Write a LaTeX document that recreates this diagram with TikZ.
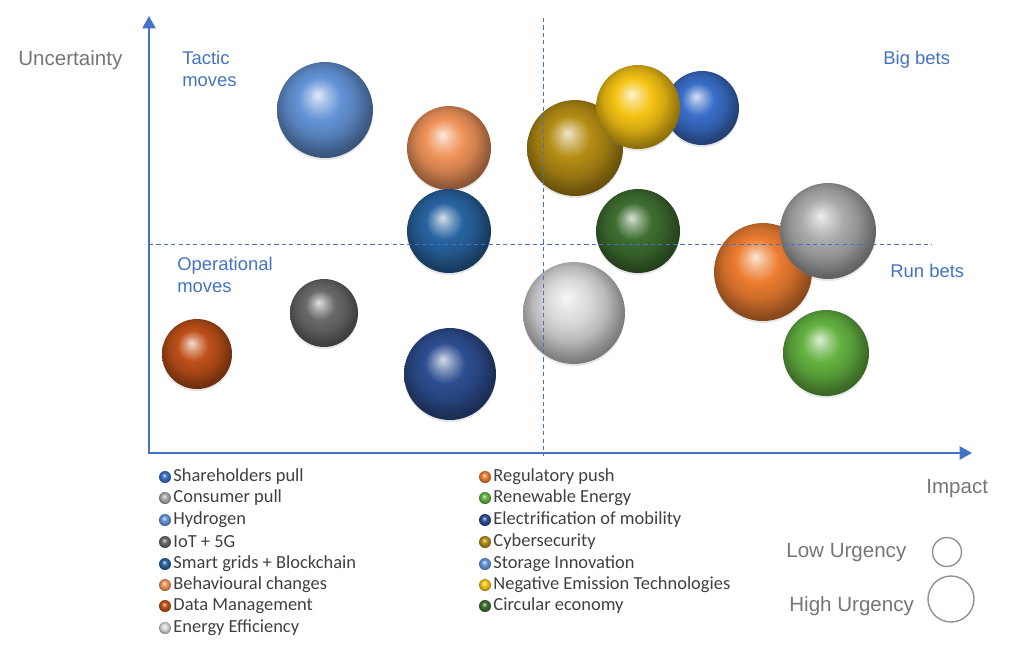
\documentclass[tikz,border=0pt]{standalone}
\usepackage{fontspec}
\setmainfont{Liberation Sans}
\newfontfamily\legendfont{Carlito}
\usetikzlibrary{arrows.meta,positioning,shadows}
\definecolor{axisblue}{RGB}{68,114,196}
\definecolor{labelgrey}{RGB}{118,118,118}
\definecolor{legendgrey}{RGB}{64,64,64}
\definecolor{shareblue}{RGB}{58,110,200}
\definecolor{consumergrey}{RGB}{170,170,170}
\definecolor{hydroblue}{RGB}{100,148,215}
\definecolor{iotgrey}{RGB}{105,105,105}
\definecolor{gridblue}{RGB}{40,100,160}
\definecolor{behavorange}{RGB}{240,148,90}
\definecolor{datarust}{RGB}{190,80,25}
\definecolor{effsilver}{RGB}{215,215,215}
\definecolor{regorange}{RGB}{237,125,49}
\definecolor{renewgreen}{RGB}{100,178,65}
\definecolor{mobnavy}{RGB}{45,78,145}
\definecolor{cybergold}{RGB}{180,140,20}
\definecolor{storageblue}{RGB}{105,150,220}
\definecolor{negyellow}{RGB}{245,195,20}
\definecolor{circgreen}{RGB}{62,110,48}
\colorlet{spherecolor}{gray}
\pgfdeclareradialshading[spherecolor]{glossball}{\pgfpoint{-4bp}{8bp}}{%
  color(0bp)=(spherecolor!20!white); color(5bp)=(spherecolor!60!white);
  color(11bp)=(spherecolor); color(18bp)=(spherecolor!86!black);
  color(25bp)=(spherecolor!62!black); color(32bp)=(spherecolor!45!black);
  color(40bp)=(spherecolor!35!black)}
\tikzset{
  sphere color/.code={\colorlet{spherecolor}{#1}},
  sphere/.style 2 args={circle,inner sep=0pt,minimum size=#2*0.04cm,
    sphere color=#1,shading=glossball,
    drop shadow={shadow xshift=0pt,shadow yshift=-1.2pt,opacity=.2}},
  legdot/.style={circle,inner sep=0pt,minimum size=0.24cm,sphere color=#1,shading=glossball},
  legtext/.style={inner sep=0pt,text=legendgrey,font=\legendfont\fontsize{10.5}{12}\selectfont},
  zone/.style={inner sep=0pt,anchor=west,align=left,text=axisblue,font=\fontsize{10.5}{12.6}\selectfont},
  axislabel/.style={inner sep=0pt,anchor=west,text=labelgrey,font=\fontsize{11.7}{13}\selectfont},
  axis/.style={axisblue,line width=0.9pt,{Triangle[length=7pt,width=7.5pt]}-{Triangle[length=7pt,width=7.5pt]}},
  divider/.style={axisblue,line width=0.5pt,dash pattern=on 2.4pt off 1.8pt},
  urgency/.style={circle,draw=labelgrey!80,line width=0.8pt,inner sep=0pt}
}
\begin{document}
\begin{tikzpicture}[x=0.02cm,y=-0.02cm]
  \useasboundingbox (0,0) rectangle (1024,654);
  % axes
  \coordinate (origin) at (149,453);
  \coordinate (ytip) at (149,16);
  \coordinate (xtip) at (972,453);
  \draw[axis] (ytip) -- (origin) -- (xtip);

  % spheres
  \node[sphere={hydroblue}{48}] (hydrogen) at (325,110) {};
  \node[sphere={behavorange}{42}] (behaviour) at (449,148) {};
  \node[sphere={gridblue}{42}] (grids) at (449,231) {};
  \node[sphere={iotgrey}{34}] (iot) at (324,313) {};
  \node[sphere={datarust}{35}] (data) at (197,354) {};
  \node[sphere={mobnavy}{46}] (mobility) at (450,374) {};
  \node[sphere={cybergold}{48}] (cyber) at (575,148) {};
  \node[sphere={shareblue}{37}] (share) at (702,108) {};
  \node[sphere={negyellow}{42}] (negative) at (638,107) {};
  \node[sphere={circgreen}{42}] (circular) at (638,231) {};
  \node[sphere={effsilver}{51}] (efficiency) at (574,313) {};
  \node[sphere={regorange}{49}] (regulatory) at (763,272) {};
  \node[sphere={consumergrey}{48}] (consumer) at (828,231) {};
  \node[sphere={renewgreen}{43}] (renewable) at (826,353) {};

  % quadrant lines
  \coordinate (vtop) at (543,18);
  \coordinate (vbot) at (543,456);
  \coordinate (hleft) at (149,244);
  \coordinate (hright) at (932,244);
  \draw[divider] (vtop) -- (vbot);
  \draw[divider] (hleft) -- (hright);

  % labels
  \node[axislabel] (uncert) at (18,60) {Uncertainty};
  \node[axislabel] (impact) at (926,489) {Impact};
  \node[zone] (tactic) at (182,69) {Tactic\\moves};
  \node[zone] (bigbets) at (883,60) {Big bets};
  \node[zone] (operational) at (177,275) {Operational\\moves};
  \node[zone] (runbets) at (890,271) {Run bets};

  % legend
  \node[legdot=shareblue] (dShare) at (165,477) {};
  \node[legtext,right=1pt of dShare] (tShare) {Shareholders pull};
  \node[legdot=consumergrey] (dConsumer) at (165,498) {};
  \node[legtext,right=1pt of dConsumer] (tConsumer) {Consumer pull};
  \node[legdot=hydroblue] (dHydrogen) at (165,520) {};
  \node[legtext,right=1pt of dHydrogen] (tHydrogen) {Hydrogen};
  \node[legdot=iotgrey] (dIot) at (165,542) {};
  \node[legtext,right=1pt of dIot] (tIot) {IoT + 5G};
  \node[legdot=gridblue] (dGrids) at (165,564) {};
  \node[legtext,right=1pt of dGrids] (tGrids) {Smart grids + Blockchain};
  \node[legdot=behavorange] (dBehaviour) at (165,585) {};
  \node[legtext,right=1pt of dBehaviour] (tBehaviour) {Behavioural changes};
  \node[legdot=datarust] (dData) at (165,606) {};
  \node[legtext,right=1pt of dData] (tData) {Data Management};
  \node[legdot=effsilver] (dEfficiency) at (165,628) {};
  \node[legtext,right=1pt of dEfficiency] (tEfficiency) {Energy Efficiency};

  \node[legdot=regorange] (dRegulatory) at (485,477) {};
  \node[legtext,right=1pt of dRegulatory] (tRegulatory) {Regulatory push};
  \node[legdot=renewgreen] (dRenewable) at (485,498) {};
  \node[legtext,right=1pt of dRenewable] (tRenewable) {Renewable Energy};
  \node[legdot=mobnavy] (dMobility) at (485,520) {};
  \node[legtext,right=1pt of dMobility] (tMobility) {Electrification of mobility};
  \node[legdot=cybergold] (dCyber) at (485,542) {};
  \node[legtext,right=1pt of dCyber] (tCyber) {Cybersecurity};
  \node[legdot=storageblue] (dStorage) at (485,564) {};
  \node[legtext,right=1pt of dStorage] (tStorage) {Storage Innovation};
  \node[legdot=negyellow] (dNegative) at (485,585) {};
  \node[legtext,right=1pt of dNegative] (tNegative) {Negative Emission Technologies};
  \node[legdot=circgreen] (dCircular) at (485,606) {};
  \node[legtext,right=1pt of dCircular] (tCircular) {Circular economy};

  % urgency key
  \node[axislabel] (lowtext) at (786,553) {Low Urgency};
  \node[urgency,minimum size=29*0.02cm] (low) at (947,552) {};
  \node[axislabel] (hightext) at (789,606) {High Urgency};
  \node[urgency,minimum size=46*0.02cm] (high) at (951,599) {};
\end{tikzpicture}
\end{document}
